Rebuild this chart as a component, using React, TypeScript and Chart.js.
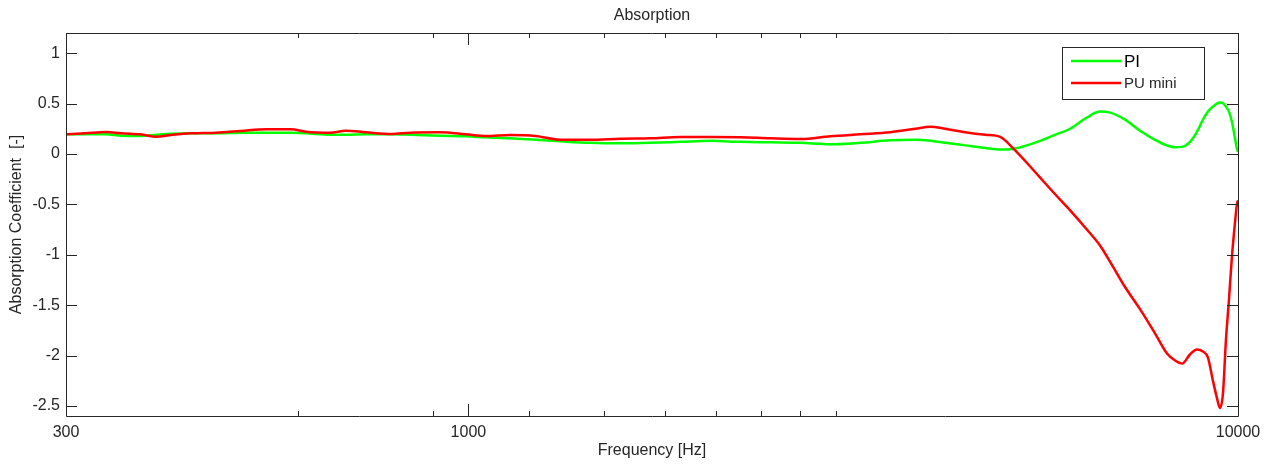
import React, { useEffect, useRef } from 'react';
import { Chart, registerables } from 'chart.js';

Chart.register(...registerables);

// Frequency samples [Hz]
const FREQS = [
  300, 318, 338, 354, 375, 393, 411, 436, 470, 506, 546, 588, 615, 662, 693, 736, 793, 841, 920, 992,
  1053, 1135, 1223, 1318, 1441, 1576, 1724, 1886, 2063, 2256, 2467, 2699, 2953, 3230, 3533, 3808, 3983,
  4165, 4421, 4694, 4909, 5103, 5290, 5532, 5786, 6052, 6329, 6620, 6821, 7132, 7459, 7801, 8086, 8285,
  8460, 8661, 8844, 9004, 9140, 9277, 9389, 9474, 9559, 9645, 9732, 9820, 9908, 9968, 10000,
];

// PI absorption coefficient
const PI_VALUES = [
  0.195, 0.195, 0.195, 0.18, 0.178, 0.19, 0.2, 0.205, 0.205, 0.21, 0.21, 0.21, 0.205, 0.19, 0.19, 0.195,
  0.195, 0.19, 0.18, 0.175, 0.165, 0.155, 0.14, 0.125, 0.11, 0.105, 0.11, 0.12, 0.13, 0.12, 0.115, 0.11,
  0.095, 0.11, 0.135, 0.14, 0.13, 0.11, 0.085, 0.06, 0.045, 0.05, 0.08, 0.13, 0.19, 0.25, 0.35, 0.42,
  0.41, 0.34, 0.23, 0.14, 0.085, 0.066, 0.07, 0.12, 0.22, 0.34, 0.42, 0.47, 0.5, 0.51, 0.505, 0.47, 0.42,
  0.32, 0.16, 0.05, 0.02,
];

// PU mini absorption coefficient
const PU_MINI_VALUES = [
  0.195, 0.205, 0.218, 0.205, 0.195, 0.171, 0.188, 0.205, 0.211, 0.228, 0.245, 0.245, 0.221, 0.211, 0.231,
  0.215, 0.198, 0.211, 0.215, 0.195, 0.178, 0.188, 0.178, 0.14, 0.14, 0.15, 0.155, 0.168, 0.168, 0.165,
  0.155, 0.148, 0.175, 0.195, 0.215, 0.25, 0.27, 0.25, 0.215, 0.19, 0.17, 0.055, -0.07, -0.235, -0.4,
  -0.56, -0.73, -0.91, -1.07, -1.32, -1.54, -1.78, -1.98, -2.05, -2.08, -1.99, -1.94, -1.96, -2.02, -2.25,
  -2.42, -2.52, -2.38, -1.85, -1.45, -1.02, -0.69, -0.5, -0.46,
];

const SERIES_LABELS = ['PI', 'PU mini'];
const SERIES_COLORS = ['#00ff00', '#ff0000'];

const X_TICKS = [300, 600, 900, 1000, 1200, 1500, 1800, 2100, 2400, 2700, 3000, 10000];
const X_MAJOR_TICKS = [300, 1000, 10000];
const Y_TICKS = [-2.5, -2, -1.5, -1, -0.5, 0, 0.5, 1];

const TITLE = 'Absorption';
const X_TITLE = 'Frequency [Hz]';
const Y_TITLE = 'Absorption Coefficient  [-]';

const FONT_FAMILY = '"Liberation Sans", Arial, Helvetica, sans-serif';
const FONT_SIZE = 16;
const AXIS_COLOR = '#262626';

const matlabAxesPlugin = {
  id: 'matlabAxes',
  afterDraw(chart: any) {
    const { ctx, chartArea } = chart;
    const { left, right, top, bottom } = chartArea;
    const xs = chart.scales.x;
    const ys = chart.scales.y;
    ctx.save();

    // title centred over the axes
    ctx.fillStyle = AXIS_COLOR;
    ctx.font = `${FONT_SIZE}px ${FONT_FAMILY}`;
    ctx.textAlign = 'center';
    ctx.textBaseline = 'middle';
    ctx.fillText(TITLE, (left + right) / 2, 16);

    ctx.strokeStyle = AXIS_COLOR;
    ctx.lineWidth = 1;
    ctx.beginPath();
    ctx.rect(Math.round(left) + 0.5, Math.round(top) + 0.5, Math.round(right - left), Math.round(bottom - top));
    ctx.stroke();
    // y ticks (inward, both sides)
    ctx.beginPath();
    for (const v of Y_TICKS) {
      const y = Math.round(ys.getPixelForValue(v)) + 0.5;
      ctx.moveTo(left, y);
      ctx.lineTo(left + 11, y);
      ctx.moveTo(right, y);
      ctx.lineTo(right - 11, y);
    }
    // x ticks (inward, both sides)
    for (const v of X_TICKS) {
      const x = Math.round(xs.getPixelForValue(v)) + 0.5;
      const len = X_MAJOR_TICKS.includes(v) ? 12 : 5;
      ctx.moveTo(x, bottom);
      ctx.lineTo(x, bottom - len);
      ctx.moveTo(x, top);
      ctx.lineTo(x, top + len);
    }
    ctx.stroke();

    // legend box
    const bw = 142;
    const bh = 52;
    const bx = Math.round(right) - 34 - bw;
    const by = Math.round(top) + 14;
    ctx.fillStyle = '#ffffff';
    ctx.fillRect(bx, by, bw, bh);
    ctx.strokeStyle = AXIS_COLOR;
    ctx.strokeRect(bx + 0.5, by + 0.5, bw, bh);
    const rows = [
      { y: by + 14, size: 17, color: '#000000' },
      { y: by + 36, size: 15, color: '#262626' },
    ];
    chart.data.datasets.forEach((ds: any, i: number) => {
      const r = rows[i];
      ctx.strokeStyle = ds.borderColor;
      ctx.lineWidth = 2.5;
      ctx.beginPath();
      ctx.moveTo(bx + 9, r.y);
      ctx.lineTo(bx + 59, r.y);
      ctx.stroke();
      ctx.fillStyle = r.color;
      ctx.font = `${r.size}px ${FONT_FAMILY}`;
      ctx.textBaseline = 'middle';
      ctx.textAlign = 'left';
      ctx.fillText(ds.label, bx + 62, r.y + 1);
    });
    ctx.restore();
  },
};

export default function App() {
  const canvasRef = useRef<HTMLCanvasElement | null>(null);

  useEffect(() => {
    document.body.style.margin = '0';
    const canvas = canvasRef.current;
    if (!canvas) return;
    const makePoints = (vals: number[]) => FREQS.map((f, i) => ({ x: f, y: vals[i] }));
    const chart = new Chart(canvas, {
      type: 'line',
      data: {
        datasets: [
          {
            label: SERIES_LABELS[0],
            data: makePoints(PI_VALUES),
            borderColor: SERIES_COLORS[0],
            backgroundColor: SERIES_COLORS[0],
            borderWidth: 2.5,
            pointRadius: 0,
            cubicInterpolationMode: 'monotone',
            fill: false,
            order: 1,
          },
          {
            label: SERIES_LABELS[1],
            data: makePoints(PU_MINI_VALUES),
            borderColor: SERIES_COLORS[1],
            backgroundColor: SERIES_COLORS[1],
            borderWidth: 2.5,
            pointRadius: 0,
            cubicInterpolationMode: 'monotone',
            fill: false,
            order: 0,
          },
        ],
      },
      options: {
        animation: false,
        responsive: false,
        devicePixelRatio: 1,
        layout: { padding: { left: 0, right: 31, top: 33, bottom: 0 } },
        plugins: {
          legend: { display: false },
          tooltip: { enabled: false },
          title: { display: false },
        },
        scales: {
          x: {
            type: 'logarithmic',
            min: 300,
            max: 10000,
            afterBuildTicks: (axis: any) => {
              axis.ticks = X_TICKS.map((v) => ({ value: v }));
            },
            afterFit: (scale: any) => {
              scale.height = 48;
            },
            grid: { display: false, drawTicks: false },
            border: { display: false },
            ticks: {
              autoSkip: false,
              maxRotation: 0,
              minRotation: 0,
              padding: 7,
              color: AXIS_COLOR,
              font: { family: FONT_FAMILY, size: FONT_SIZE },
              callback: (v: any) => (X_MAJOR_TICKS.includes(Number(v)) ? String(v) : ''),
            },
            title: {
              display: true,
              text: X_TITLE,
              color: AXIS_COLOR,
              font: { family: FONT_FAMILY, size: FONT_SIZE },
              padding: { top: 0, bottom: 3.5 },
            },
          },
          y: {
            type: 'linear',
            min: -2.6,
            max: 1.2,
            afterBuildTicks: (axis: any) => {
              axis.ticks = Y_TICKS.map((v) => ({ value: v }));
            },
            afterFit: (scale: any) => {
              scale.width = 66;
            },
            grid: { display: false, drawTicks: false },
            border: { display: false },
            ticks: {
              padding: 6,
              color: AXIS_COLOR,
              font: { family: FONT_FAMILY, size: FONT_SIZE },
              callback: (v: any) => String(v),
            },
            title: {
              display: true,
              text: Y_TITLE,
              color: AXIS_COLOR,
              font: { family: FONT_FAMILY, size: FONT_SIZE },
              padding: { top: 6.5, bottom: 0 },
            },
          },
        },
      },
      plugins: [matlabAxesPlugin],
    } as any);
    return () => chart.destroy();
  }, []);

  return (
    <div style={{ width: 1269, height: 464, background: '#ffffff' }}>
      <canvas ref={canvasRef} width={1269} height={464} />
    </div>
  );
}
